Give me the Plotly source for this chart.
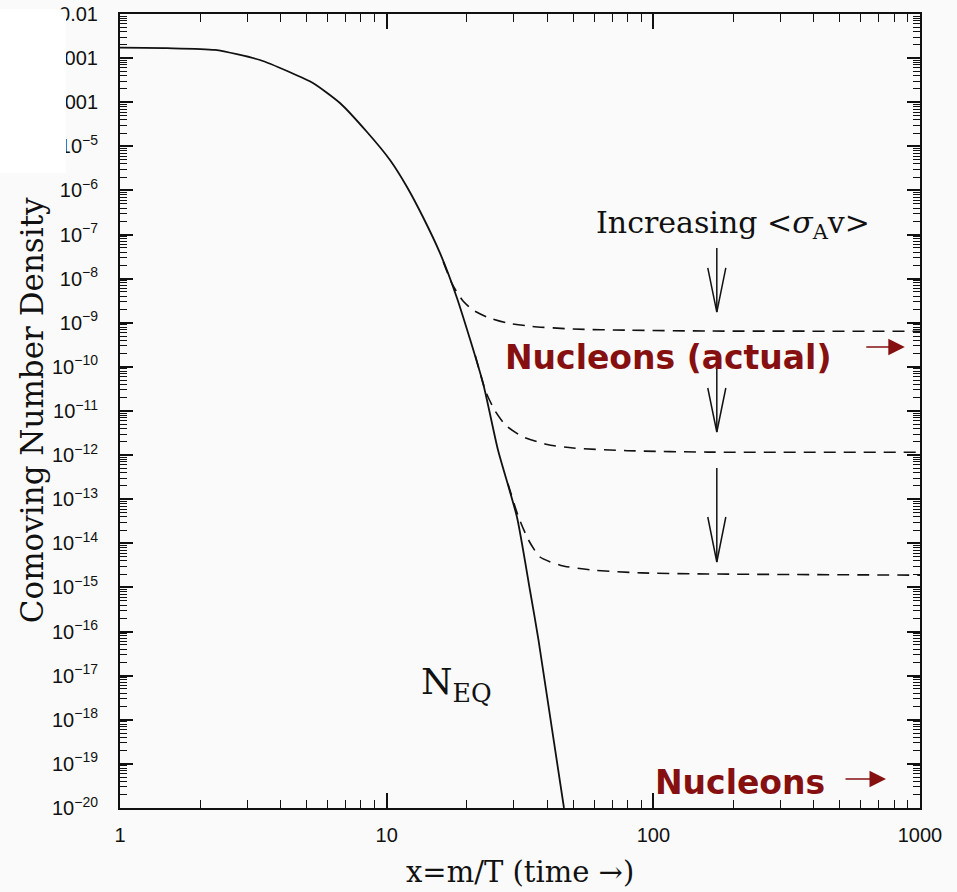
import plotly.graph_objects as go

# ---------------- data ----------------
# Equilibrium abundance N_EQ (solid curve)
x_eq = [1.0, 1.5, 2.27, 3.35, 4.3, 5.29, 6.68, 8.44, 10.29, 11.92, 13.68, 15.85,
        18.35, 22.97, 26.15, 30.80, 34.45, 37.09, 46.23]
y_eq = [1.72e-3, 1.68e-3, 1.53e-3, 9.06e-4, 4.9e-4, 2.73e-4, 9.6e-5, 2.11e-5, 4.9e-6,
        1.2e-6, 2.5e-7, 3.8e-8, 3.65e-9, 4.3e-11, 1.3e-12, 3.95e-14, 8.75e-16,
        6.5e-17, 1.0e-20]

# Freeze-out curves (dashed), increasing <sigma_A v>
x_f1 = [16.3, 17.7, 19.3, 21.07, 24.0, 28.25, 35.0, 50.0, 80.0, 160.0, 1000.0]
y_f1 = [2.4e-8, 7.1e-9, 3.16e-9, 1.95e-9, 1.32e-9, 9.9e-10, 8.3e-10, 7.2e-10,
        6.8e-10, 6.5e-10, 6.45e-10]
x_f2 = [21.5, 23.5, 25.5, 28.0, 32.4, 40.0, 50.0, 80.0, 160.0, 1000.0]
y_f2 = [1.8e-10, 2.8e-11, 1.0e-11, 4.7e-12, 2.6e-12, 1.74e-12, 1.45e-12, 1.26e-12,
        1.17e-12, 1.16e-12]
x_f3 = [28.5, 31.2, 34.0, 37.6, 45.0, 58.0, 90.0, 160.0, 1000.0]
y_f3 = [2.24e-13, 4.0e-14, 1.2e-14, 4.9e-15, 3.16e-15, 2.5e-15, 2.14e-15, 2.02e-15,
        1.9e-15]

# tick labels
x_tickvals = [1, 10, 100, 1000]
x_ticktext = ["1", "10", "100", "1000"]
y_exponents = list(range(-2, -21, -1))
y_ticktext = ["0.01", "0.001", "0.0001"] + [f"10<sup>\u2212{-e}</sup>" for e in range(-5, -21, -1)]

# arrow annotations "Increasing <sigma v>": (start, tip, wing) in y
arrow_x = 173.0
arrow_wing_x = [160.0, 187.0]
arrow_start = [4.95e-8, 1.29e-10, 5.1e-13]
arrow_tip = [1.75e-9, 3.34e-12, 3.77e-15]
arrow_wing = [1.75e-8, 3.32e-11, 3.95e-14]

# ---------------- figure ----------------
BG = "#fafafa"
INK = "#111111"
RED = "#861010"
SERIF = "DejaVu Serif"
SANS = "Liberation Sans"

fig = go.Figure()

fig.add_trace(go.Scatter(x=x_eq, y=y_eq, mode="lines",
                         line=dict(color=INK, width=1.8, shape="spline", smoothing=0.6),
                         showlegend=False, hoverinfo="skip"))
for xs, ys in [(x_f1, y_f1), (x_f2, y_f2), (x_f3, y_f3)]:
    fig.add_trace(go.Scatter(x=xs, y=ys, mode="lines",
                             line=dict(color=INK, width=1.6, dash="12px,8px",
                                       shape="spline", smoothing=0.6),
                             showlegend=False, hoverinfo="skip"))

for s, t, w in zip(arrow_start, arrow_tip, arrow_wing):
    fig.add_trace(go.Scatter(
        x=[arrow_x, arrow_x, None, arrow_wing_x[0], arrow_x, arrow_wing_x[1]],
        y=[s, t, None, w, t, w], mode="lines",
        line=dict(color=INK, width=1.5), showlegend=False, hoverinfo="skip"))

minor_y = [k * 10.0 ** e for e in range(-20, -2) for k in range(2, 10)]
minor_x = [k * 10.0 ** e for e in range(0, 3) for k in range(2, 10)]

fig.update_xaxes(type="log", range=[0, 3], tickmode="array", automargin=False,
                 tickvals=x_tickvals, ticktext=x_ticktext,
                 ticks="inside", ticklen=15, tickwidth=1.5, tickcolor=INK,
                 showline=True, linewidth=2, linecolor=INK, mirror="allticks",
                 showgrid=False, zeroline=False,
                 tickfont=dict(family=SANS, size=20, color=INK),
                 ticklabelstandoff=8,
                 minor=dict(tickmode="array", tickvals=minor_x, ticks="inside",
                            ticklen=8, tickwidth=1.3, tickcolor=INK, showgrid=False))
fig.update_yaxes(type="log", range=[-20, -2], tickmode="array", automargin=False,
                 tickvals=[10.0 ** e for e in y_exponents], ticktext=y_ticktext,
                 ticks="inside", ticklen=13, tickwidth=1.5, tickcolor=INK,
                 showline=True, linewidth=2, linecolor=INK, mirror="allticks",
                 showgrid=False, zeroline=False,
                 tickfont=dict(family=SANS, size=20, color=INK),
                 ticklabelstandoff=16,
                 minor=dict(tickmode="array", tickvals=minor_y, ticks="inside",
                            ticklen=7, tickwidth=1.2, tickcolor=INK, showgrid=False))

# white box hiding part of the top tick labels
fig.add_shape(type="rect", xref="paper", yref="paper",
              x0=-0.16, x1=-0.0675, y0=0.7997, y1=1.006,
              fillcolor="white", line=dict(width=0), layer="above")

ann = [
    dict(text="Comoving Number Density", x=-0.11, y=0.501, textangle=-90,
         font=dict(family=SERIF, size=31, color=INK)),
    dict(text="x=m/T (time \u2192)", x=0.5, y=-0.081,
         font=dict(family=SERIF, size=29, color=INK)),
    dict(text="Increasing &lt;<i>\u03c3</i><sub>A</sub>v&gt;", x=0.766, y=0.7355,
         font=dict(family=SERIF, size=30, color=INK)),
    dict(text="N<sub>EQ</sub>", x=0.421, y=0.155,
         font=dict(family=SERIF, size=36, color=INK)),
    dict(text="Nucleons (actual)", x=0.685, y=0.568,
         font=dict(family="DejaVu Sans", size=33, color=RED, weight="bold")),
    dict(text="Nucleons", x=0.775, y=0.0327,
         font=dict(family="DejaVu Sans", size=33, color=RED, weight="bold")),
]
for a in ann:
    fig.add_annotation(xref="paper", yref="paper", showarrow=False,
                       xanchor="center", yanchor="middle", **a)

for tx, ty, dx in [(0.981, 0.5806, -40), (0.9575, 0.0365, -42)]:
    fig.add_annotation(xref="paper", yref="paper", x=tx, y=ty, ax=dx, ay=0,
                       text="", showarrow=True, arrowhead=2, arrowsize=2.2,
                       arrowwidth=1.5, arrowcolor=RED)

fig.update_layout(width=957, height=892, autosize=False,
                  margin=dict(l=120, r=37, t=14, b=84),
                  paper_bgcolor=BG, plot_bgcolor=BG, showlegend=False)

fig.write_html("out.html")
